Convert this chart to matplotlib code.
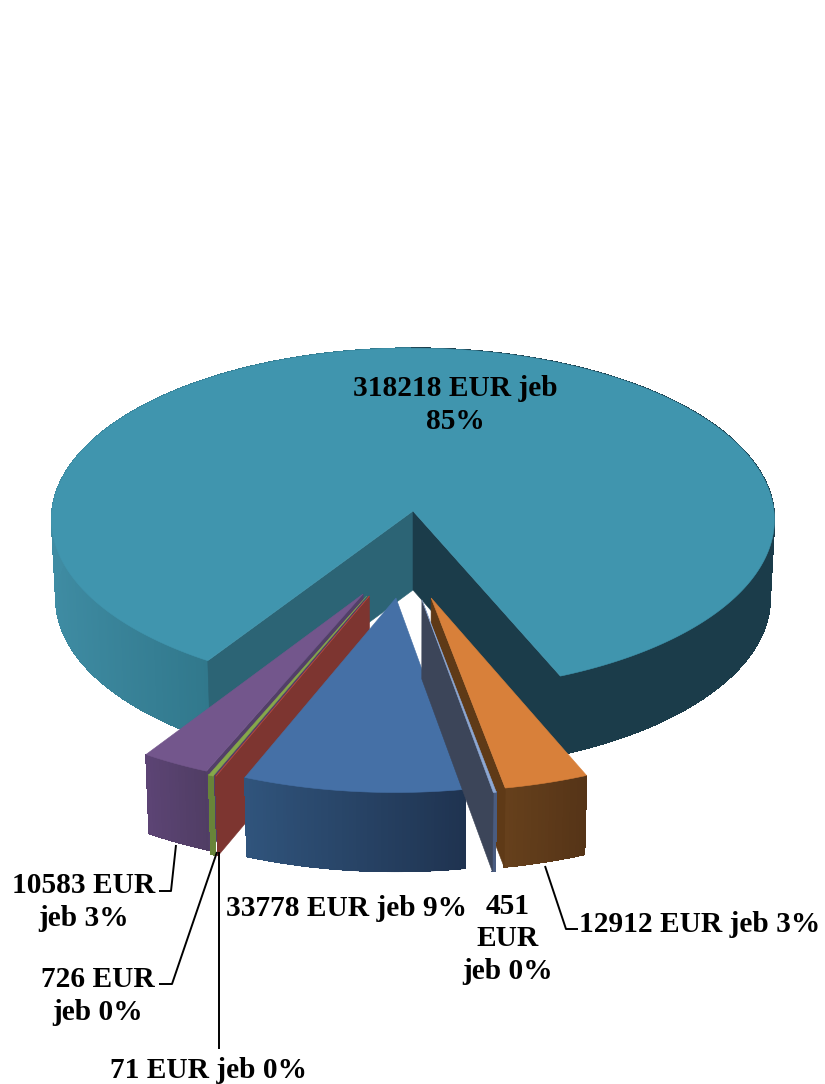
import matplotlib
matplotlib.use('Agg')
import matplotlib.pyplot as plt
from matplotlib.collections import PolyCollection, LineCollection
from matplotlib.colors import to_rgb
import numpy as np

# clockwise seen from above, starting at the big slice
values = [318218, 12912, 451, 33778, 71, 726, 10583]
percents = [85, 3, 0, 9, 0, 0, 3]

# projection of the pie, in pixels
CX, CY = 413, 511
RX, RY = 361, 171
PERSP = 0.05
DEPTH = 79
START = -33.0

# how far each slice is pulled out (plane units), pie radius of the slice
offsets = [(0, 0), (.049, .496), (.024, .507), (-.046, .496), (-.118, .485), (-.125, .485), (-.135, .474)]
radii = [1.0, 1.02, 1.03, 1.025, 1.03, 1.03, 1.02]

tops = ['#4095AE', '#D8803A', '#8DA8D4', '#4570A6', '#A8443E', '#86A84A', '#73568C']
rim_left = ['#3F8CA3', '#66401C', '#4A5C80', '#30547C', '#7D3530', '#688439', '#5C4474']
rim_right = ['#1B3C4A', '#553417', '#4A5C80', '#1F3350', '#7D3530', '#688439', '#503D64']
walls = {0: [('start', '#2C6475'), ('end', '#1B3C4A')],
         1: [('end', '#5F3A17')],
         2: [('end', '#3C4559')],
         4: [('start', '#7D3530')],
         6: [('start', '#523F68')]}
draw_order = [0, 6, 5, 4, 3, 1, 2]


def project(u, v, z):
    s = 1.0 / (1.0 - PERSP * v)
    return CX + RX * u * s * (1.0 - 0.012 * z), CY + RY * v * s + DEPTH * z


def rim_point(t, i, z):
    r = radii[i]
    ou, ov = offsets[i]
    return project(ou + r * np.sin(t), ov + r * np.cos(t), z)


def blend(c1, c2, f):
    a = np.array(to_rgb(c1))
    b = np.array(to_rgb(c2))
    return tuple(a + (b - a) * f)


fig = plt.figure(figsize=(8.25, 10.84), dpi=100)
ax = fig.add_axes([0, 0, 1, 1])
ax.set_xlim(0, 825)
ax.set_ylim(1084, 0)
ax.axis('off')

total = sum(values)
sweeps = [360.0 * v / total for v in values]
ends = START - np.cumsum(sweeps)
starts = np.concatenate([[START], ends[:-1]])

layer = 1
for i in draw_order:
    t0, t1 = np.radians(starts[i]), np.radians(ends[i])
    n = max(3, int(abs(sweeps[i]) * 2))
    ts = np.linspace(t0, t1, n)
    ou, ov = offsets[i]

    # outer rim as narrow strips so the shade can run across it
    quads = []
    cols = []
    for k, (a, b) in enumerate(zip(ts[:-1], ts[1:])):
        quads.append([rim_point(a, i, 0), rim_point(b, i, 0), rim_point(b, i, 1), rim_point(a, i, 1)])
        if i == 0:
            mid = (a + b) / 2
            if np.sin(mid) < 0 and mid > -np.pi:
                # left front: light at far left, darker towards the wall
                f = 1 - abs(np.sin(mid))
                cols.append(blend('#3F8CA3', '#31788C', f / 0.45 if f < 0.45 else 1))
            else:
                cols.append(to_rgb(rim_right[0]))
        else:
            # t falls going left, so the fraction runs right to left
            cols.append(blend(rim_right[i], rim_left[i], (k + .5) / (n - 1)))
    ax.add_collection(PolyCollection(quads, facecolors=cols, edgecolors=cols, linewidths=.5,
                                     antialiaseds=False, zorder=layer))
    # smooth lower edge
    segs = [[q[2], q[3]] for q in quads]
    ax.add_collection(LineCollection(segs, colors=cols, linewidths=.8, zorder=layer))
    layer += 1

    # cut faces
    for which, col in walls.get(i, []):
        t = t0 if which == 'start' else t1
        poly = [project(ou, ov, 0), rim_point(t, i, 0), rim_point(t, i, 1), project(ou, ov, 1)]
        ax.add_patch(plt.Polygon(poly, closed=True, fc=col, ec=col, lw=.4, zorder=layer))
    layer += 1

    # top
    poly = [project(ou, ov, 0)] + [rim_point(t, i, 0) for t in ts]
    ax.add_patch(plt.Polygon(poly, closed=True, fc=tops[i], ec=tops[i], lw=.4, zorder=layer))
    layer += 1

font = dict(family='Liberation Serif', fontweight='bold', fontsize=21.2, color='black',
            ha='center', va='center', linespacing=1.27, zorder=layer)

ax.text(455, 405, f'{values[0]} EUR jeb\n{percents[0]}%', **font)
ax.text(700, 924, f'{values[1]} EUR jeb {percents[1]}%', **font)
ax.text(508, 939, f'{values[2]}\nEUR\njeb {percents[2]}%', **font)
ax.text(346, 909, f'{values[3]} EUR jeb {percents[3]}%', **font)
ax.text(209, 1071, f'{values[4]} EUR jeb {percents[4]}%', **font)
ax.text(98, 996, f'{values[5]} EUR\njeb {percents[5]}%', **font)
ax.text(84, 902, f'{values[6]} EUR\njeb {percents[6]}%', **font)

# leader lines
leader = dict(color='black', lw=1.4, solid_capstyle='butt', zorder=layer)
ax.plot([176, 171, 159], [845, 891, 891], **leader)
ax.plot([217, 172, 159], [852, 984, 984], **leader)
ax.plot([219, 219], [852, 1049], **leader)
ax.plot([545, 566, 578], [866, 929, 929], **leader)

fig.savefig('out.png', dpi=100)
